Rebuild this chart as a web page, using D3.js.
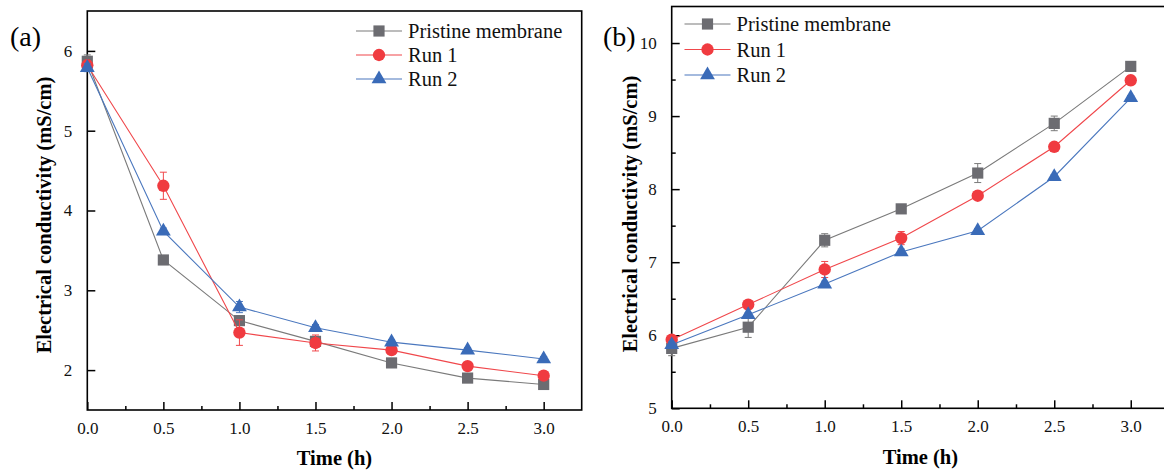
<!DOCTYPE html>
<meta charset="utf-8">
<script src="https://d3js.org/d3.v7.min.js"></script>
<style>
body { margin: 0; background: #fff; }
svg { display: block; font-family: "Liberation Serif", "Times New Roman", serif; }
</style>
<div id="chart"></div>
<script>
// time points (h)
var times = [0, 0.5, 1.0, 1.5, 2.0, 2.5, 3.0];
var seriesNames = ["Pristine membrane", "Run 1", "Run 2"];
var colors = ["#6c6c71", "#f03b40", "#3a6bb8"];
var lineColors = ["#7a7a7a", "#f0474b", "#4a77be"];

// panel (a) values, mS/cm
var aPristine = [5.87, 3.38, 2.62, 2.36, 2.09, 1.90, 1.82];
var aRun1     = [5.82, 4.31, 2.47, 2.34, 2.25, 2.05, 1.93];
var aRun2     = [5.79, 3.74, 2.79, 2.53, 2.35, 2.25, 2.14];
var aErrPristine = [0.08, 0.05, 0.06, 0.05, 0.03, 0.03, 0.03];
var aErrRun1     = [0.06, 0.17, 0.16, 0.10, 0.04, 0.03, 0.03];
var aErrRun2     = [0.05, 0.04, 0.07, 0.04, 0.03, 0.03, 0.03];

// panel (b) values, mS/cm
var bPristine = [5.82, 6.11, 7.30, 7.73, 8.22, 8.90, 9.68];
var bRun1     = [5.94, 6.42, 6.90, 7.33, 7.91, 8.58, 9.49];
var bRun2     = [5.87, 6.28, 6.70, 7.14, 7.43, 8.17, 9.25];
var bErrPristine = [0.10, 0.14, 0.09, 0.06, 0.13, 0.10, 0.04];
var bErrRun1     = [0.05, 0.03, 0.11, 0.09, 0.04, 0.04, 0.06];
var bErrRun2     = [0.04, 0.03, 0.04, 0.04, 0.03, 0.03, 0.03];

var xTicks = [0, 0.5, 1.0, 1.5, 2.0, 2.5, 3.0];
var aYTicks = [2, 3, 4, 5, 6];
var bYTicks = [5, 6, 7, 8, 9, 10];

var width = 1164, height = 470;
var svg = d3.select("#chart").append("svg")
  .attr("width", width)
  .attr("height", height);

var symbols = [d3.symbolSquare, d3.symbolCircle, d3.symbolTriangle];
var symbolSizes = [125, 120, 95];

function drawPanel(p) {
  var x = d3.scaleLinear().domain([0, 3.25]).range([p.left, p.right]);
  var y = d3.scaleLinear().domain(p.yDomain).range([p.bottom, p.top]);
  var g = svg.append("g");

  // minor ticks
  var xMinor = d3.range(0.25, 3.25, 0.5);
  var yMinor = d3.range(p.yDomain[0] + 0.5, p.yDomain[1], 1).filter(function(v){ return p.yTicks.indexOf(v) < 0; });

  g.append("g")
    .attr("transform", "translate(0," + p.bottom + ")")
    .call(d3.axisBottom(x).tickValues(xTicks).tickSizeInner(-8).tickSizeOuter(0).tickPadding(12).tickFormat(d3.format(".1f")))
    .call(function(s){ s.select(".domain").remove(); });
  g.append("g")
    .attr("transform", "translate(0," + p.bottom + ")")
    .call(d3.axisBottom(x).tickValues(xMinor).tickSizeInner(-4).tickSizeOuter(0).tickFormat(""))
    .call(function(s){ s.select(".domain").remove(); });
  g.append("g")
    .attr("transform", "translate(" + p.left + ",0)")
    .call(d3.axisLeft(y).tickValues(p.yTicks).tickSizeInner(-8).tickSizeOuter(0).tickPadding(15).tickFormat(d3.format("d")))
    .call(function(s){ s.select(".domain").remove(); });
  g.append("g")
    .attr("transform", "translate(" + p.left + ",0)")
    .call(d3.axisLeft(y).tickValues(yMinor).tickSizeInner(-4).tickSizeOuter(0).tickFormat(""))
    .call(function(s){ s.select(".domain").remove(); });

  g.selectAll(".tick line").attr("stroke", "#000").attr("stroke-width", 1.5);
  g.selectAll(".tick text")
    .attr("font-family", "Liberation Serif")
    .attr("font-size", 17)
    .attr("fill", "#111");

  // frame
  g.append("rect")
    .attr("x", p.left).attr("y", p.top)
    .attr("width", p.right - p.left).attr("height", p.bottom - p.top)
    .attr("fill", "none").attr("stroke", "#000").attr("stroke-width", 1.6);

  // series
  p.series.forEach(function(vals, i) {
    var errs = p.errs[i];
    var pts = times.map(function(t, k){ return {t: t, v: vals[k], e: errs[k]}; });
    var line = d3.line().x(function(d){ return x(d.t); }).y(function(d){ return y(d.v); });
    g.append("path").datum(pts)
      .attr("d", line).attr("fill", "none")
      .attr("stroke", lineColors[i]).attr("stroke-width", 1.1);

    var eb = g.append("g").attr("stroke", lineColors[i]).attr("stroke-width", 1);
    eb.selectAll("line.v").data(pts).enter().append("line")
      .attr("x1", function(d){ return x(d.t); }).attr("x2", function(d){ return x(d.t); })
      .attr("y1", function(d){ return y(d.v - d.e); }).attr("y2", function(d){ return y(d.v + d.e); });
    eb.selectAll("line.t").data(pts).enter().append("line")
      .attr("x1", function(d){ return x(d.t) - 3.5; }).attr("x2", function(d){ return x(d.t) + 3.5; })
      .attr("y1", function(d){ return y(d.v + d.e); }).attr("y2", function(d){ return y(d.v + d.e); });
    eb.selectAll("line.b").data(pts).enter().append("line")
      .attr("x1", function(d){ return x(d.t) - 3.5; }).attr("x2", function(d){ return x(d.t) + 3.5; })
      .attr("y1", function(d){ return y(d.v - d.e); }).attr("y2", function(d){ return y(d.v - d.e); });

    g.selectAll(null).data(pts).enter().append("path")
      .attr("d", d3.symbol().type(symbols[i]).size(symbolSizes[i]))
      .attr("transform", function(d){ return "translate(" + x(d.t) + "," + y(d.v) + ")"; })
      .attr("fill", colors[i]);
  });

  // legend
  seriesNames.forEach(function(name, i) {
    var ly = p.legend.y + i * p.legend.dy;
    g.append("line")
      .attr("x1", p.legend.x - 23).attr("x2", p.legend.x + 23)
      .attr("y1", ly).attr("y2", ly)
      .attr("stroke", lineColors[i]).attr("stroke-width", 1.1);
    g.append("path")
      .attr("d", d3.symbol().type(symbols[i]).size(symbolSizes[i])())
      .attr("transform", "translate(" + p.legend.x + "," + ly + ")")
      .attr("fill", colors[i]);
    g.append("text")
      .attr("x", p.legend.x + 29).attr("y", ly)
      .attr("dy", "0.35em")
      .attr("font-size", 20.5)
      .attr("fill", "#111")
      .text(name);
  });

  // axis titles
  g.append("text")
    .attr("x", (p.left + p.right) / 2).attr("y", p.xTitleY)
    .attr("text-anchor", "middle").attr("dy", "0.35em")
    .attr("font-size", 20.5).attr("font-weight", "bold")
    .text("Time (h)");
  g.append("text")
    .attr("transform", "translate(" + p.yTitleX + "," + p.yTitleY + ") rotate(-90)")
    .attr("text-anchor", "middle").attr("dy", "0.35em")
    .attr("font-size", 20.5).attr("font-weight", "bold")
    .text("Electrical conductivity (mS/cm)");

  // panel label
  g.append("text")
    .attr("x", p.label.x).attr("y", p.label.y)
    .attr("dy", "0.35em")
    .attr("font-size", 28)
    .text(p.label.text);
}

drawPanel({
  left: 87.3, right: 581.7, top: 11, bottom: 410,
  yDomain: [1.5, 6.5], yTicks: aYTicks,
  series: [aPristine, aRun1, aRun2],
  errs: [aErrPristine, aErrRun1, aErrRun2],
  legend: {x: 379, y: 31, dy: 24},
  xTitleY: 458, yTitleX: 44, yTitleY: 215,
  label: {x: 10, y: 36, text: "(a)"}
});

drawPanel({
  left: 671.7, right: 1169, top: 6.5, bottom: 408.3,
  yDomain: [5, 10.5], yTicks: bYTicks,
  series: [bPristine, bRun1, bRun2],
  errs: [bErrPristine, bErrRun1, bErrRun2],
  legend: {x: 707.5, y: 24, dy: 25.5},
  xTitleY: 457, yTitleX: 630, yTitleY: 214,
  label: {x: 603, y: 36, text: "(b)"}
});
</script>
